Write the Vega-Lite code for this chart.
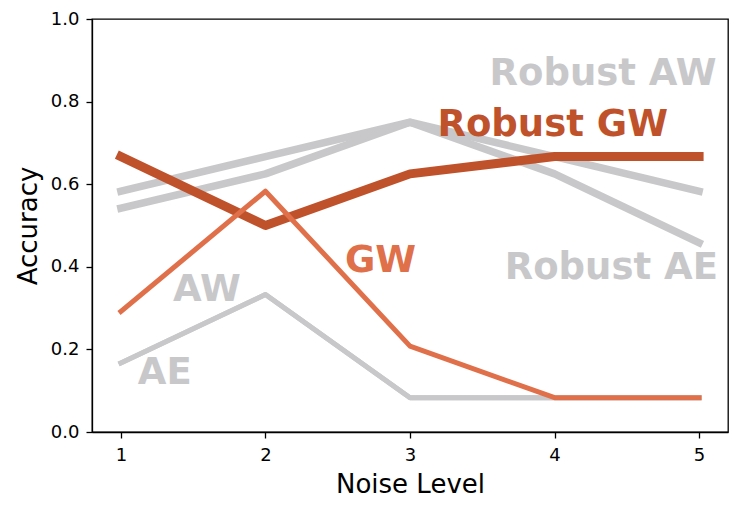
{
  "$schema": "https://vega.github.io/schema/vega-lite/v6.json",
  "width": 636,
  "height": 413,
  "autosize": {"type": "none"},
  "padding": {"left": 92, "top": 19, "right": 19, "bottom": 80},
  "config": {
    "font": "DejaVu Sans",
    "view": {"stroke": "black", "strokeWidth": 1.3},
    "axis": {
      "grid": false,
      "domainColor": "black",
      "domainWidth": 1.3,
      "tickColor": "black",
      "tickWidth": 1.3,
      "tickSize": 6,
      "labelColor": "black",
      "labelFontSize": 18,
      "titleColor": "black",
      "titleFontSize": 26,
      "titleFontWeight": "normal"
    }
  },
  "datasets": {
    "scores": [
      {"model": "Robust AW", "noise": 1, "acc": 0.583},
      {"model": "Robust AW", "noise": 2, "acc": 0.667},
      {"model": "Robust AW", "noise": 3, "acc": 0.75},
      {"model": "Robust AW", "noise": 4, "acc": 0.667},
      {"model": "Robust AW", "noise": 5, "acc": 0.583},
      {"model": "Robust AE", "noise": 1, "acc": 0.542},
      {"model": "Robust AE", "noise": 2, "acc": 0.625},
      {"model": "Robust AE", "noise": 3, "acc": 0.75},
      {"model": "Robust AE", "noise": 4, "acc": 0.625},
      {"model": "Robust AE", "noise": 5, "acc": 0.458},
      {"model": "AW", "noise": 1, "acc": 0.167},
      {"model": "AW", "noise": 2, "acc": 0.333},
      {"model": "AW", "noise": 3, "acc": 0.083},
      {"model": "AW", "noise": 4, "acc": 0.083},
      {"model": "AW", "noise": 5, "acc": 0.083},
      {"model": "AE", "noise": 1, "acc": 0.167},
      {"model": "AE", "noise": 2, "acc": 0.333},
      {"model": "AE", "noise": 3, "acc": 0.083},
      {"model": "AE", "noise": 4, "acc": 0.083},
      {"model": "AE", "noise": 5, "acc": 0.083},
      {"model": "Robust GW", "noise": 1, "acc": 0.667},
      {"model": "Robust GW", "noise": 2, "acc": 0.5},
      {"model": "Robust GW", "noise": 3, "acc": 0.625},
      {"model": "Robust GW", "noise": 4, "acc": 0.667},
      {"model": "Robust GW", "noise": 5, "acc": 0.667},
      {"model": "GW", "noise": 1, "acc": 0.292},
      {"model": "GW", "noise": 2, "acc": 0.583},
      {"model": "GW", "noise": 3, "acc": 0.208},
      {"model": "GW", "noise": 4, "acc": 0.083},
      {"model": "GW", "noise": 5, "acc": 0.083}
    ],
    "labels": [
      {"model": "Robust AW", "noise": 3.55, "acc": 0.84},
      {"model": "Robust GW", "noise": 3.19, "acc": 0.717},
      {"model": "Robust AE", "noise": 3.655, "acc": 0.37},
      {"model": "GW", "noise": 2.55, "acc": 0.387},
      {"model": "AW", "noise": 1.36, "acc": 0.317},
      {"model": "AE", "noise": 1.117, "acc": 0.116}
    ]
  },
  "encoding": {
    "x": {
      "field": "noise",
      "type": "quantitative",
      "title": "Noise Level",
      "scale": {"domain": [0.8, 5.2], "nice": false, "zero": false},
      "axis": {"values": [1, 2, 3, 4, 5], "labelPadding": 8, "titlePadding": 7}
    },
    "y": {
      "field": "acc",
      "type": "quantitative",
      "title": "Accuracy",
      "scale": {"domain": [0, 1], "nice": false},
      "axis": {"values": [0, 0.2, 0.4, 0.6, 0.8, 1.0], "format": ".1f", "labelPadding": 7, "titlePadding": 9}
    },
    "color": {
      "field": "model",
      "type": "nominal",
      "legend": null,
      "scale": {
        "domain": ["Robust AW", "Robust AE", "AW", "AE", "Robust GW", "GW"],
        "range": ["#c8c8ca", "#c8c8ca", "#c8c8ca", "#c8c8ca", "#c0522b", "#e0704a"]
      }
    }
  },
  "layer": [
    {
      "data": {"name": "scores"},
      "transform": [{"filter": "datum.model == 'Robust AW' || datum.model == 'Robust AE'"}],
      "mark": {"type": "line", "strokeWidth": 7.5, "strokeCap": "square", "strokeJoin": "round"},
      "encoding": {"detail": {"field": "model"}}
    },
    {
      "data": {"name": "scores"},
      "transform": [{"filter": "datum.model == 'AW' || datum.model == 'AE'"}],
      "mark": {"type": "line", "strokeWidth": 5, "strokeCap": "square", "strokeJoin": "round"},
      "encoding": {"detail": {"field": "model"}}
    },
    {
      "data": {"name": "scores"},
      "transform": [{"filter": "datum.model == 'Robust GW'"}],
      "mark": {"type": "line", "strokeWidth": 9, "strokeCap": "square", "strokeJoin": "round"}
    },
    {
      "data": {"name": "scores"},
      "transform": [{"filter": "datum.model == 'GW'"}],
      "mark": {"type": "line", "strokeWidth": 5, "strokeCap": "square", "strokeJoin": "round"}
    },
    {
      "data": {"name": "labels"},
      "mark": {"type": "text", "align": "left", "baseline": "alphabetic", "fontSize": 37, "fontWeight": "bold"},
      "encoding": {"text": {"field": "model"}}
    }
  ]
}
